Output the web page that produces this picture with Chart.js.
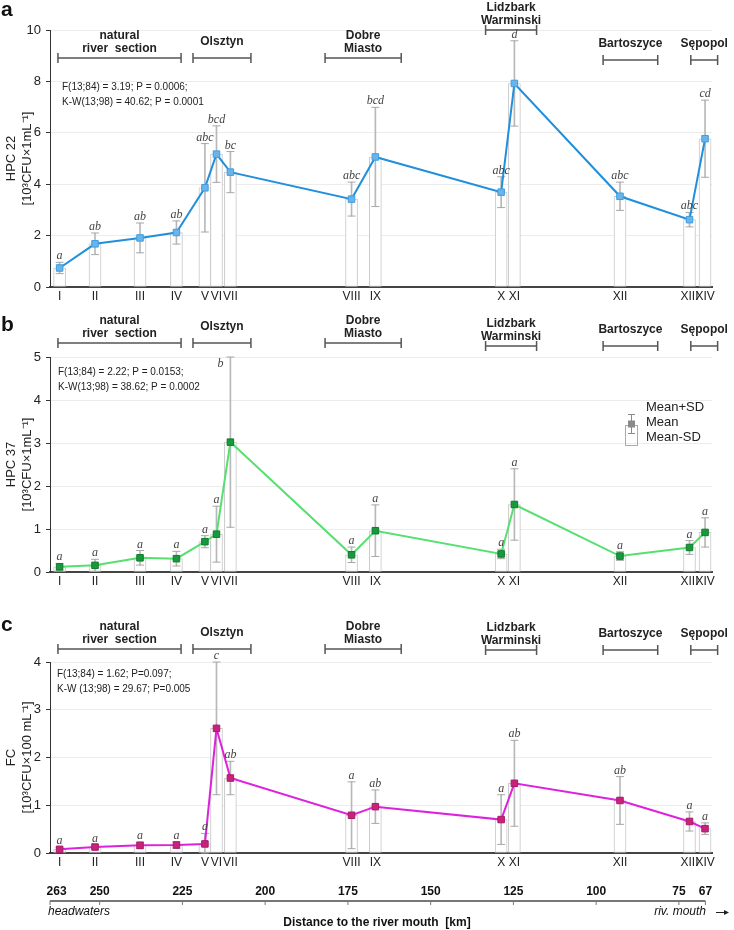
<!DOCTYPE html>
<html>
<head>
<meta charset="utf-8">
<script src="https://cdn.jsdelivr.net/npm/chart.js@4.4.0/dist/chart.umd.min.js"></script>
<style>
  body { margin: 0; background: #fff; }
  #wrap { position: relative; width: 734px; height: 930px; }
  canvas { position: absolute; left: 0; }
</style>
</head>
<body>
<div id="wrap">
  <canvas id="chartA" width="734" height="310" style="top:0"></canvas>
  <canvas id="chartB" width="734" height="290" style="top:310px"></canvas>
  <canvas id="chartC" width="734" height="330" style="top:600px"></canvas>
</div>
<script>
// sampling sites and their distance to the river mouth (km)
const sites = ['I', 'II', 'III', 'IV', 'V', 'VI', 'VII', 'VIII', 'IX', 'X', 'XI', 'XII', 'XIII', 'XIV'];
const siteKm = [262.1, 251.4, 237.8, 226.8, 218.2, 214.7, 210.5, 173.9, 166.7, 128.7, 124.7, 92.8, 71.8, 67.1];
const distTicks = [263, 250, 225, 200, 175, 150, 125, 100, 75, 67];

// river sections
const towns = [['natural', 'river  section'], ['Olsztyn'], ['Dobre', 'Miasto'], ['Lidzbark', 'Warminski'], ['Bartoszyce'], ['Sępopol']];
const townFromKm = [262.6, 221.8, 181.9, 133.4, 97.9, 71.4];
const townToKm = [225.4, 204.3, 158.9, 118.0, 81.4, 63.3];

// a) HPC 22
const hpc22Mean = [0.74, 1.68, 1.91, 2.12, 3.86, 5.17, 4.47, 3.42, 5.06, 3.69, 7.92, 3.53, 2.62, 5.77];
const hpc22Sd = [0.22, 0.42, 0.58, 0.45, 1.72, 1.10, 0.80, 0.66, 1.93, 0.60, 1.66, 0.55, 0.28, 1.50];
const hpc22Letters = ['a', 'ab', 'ab', 'ab', 'abc', 'bcd', 'bc', 'abc', 'bcd', 'abc', 'd', 'abc', 'abc', 'cd'];
const hpc22Stats = ['F(13;84) = 3.19; P = 0.0006;', 'K-W(13;98) = 40.62; P = 0.0001'];

// b) HPC 37
const hpc37Mean = [0.12, 0.155, 0.33, 0.31, 0.705, 0.88, 3.02, 0.40, 0.96, 0.42, 1.57, 0.37, 0.57, 0.92];
const hpc37Sd = [0.08, 0.14, 0.17, 0.17, 0.14, 0.65, 1.98, 0.18, 0.60, 0.11, 0.83, 0.10, 0.16, 0.34];
const hpc37Letters = ['a', 'a', 'a', 'a', 'a', 'a', 'b', 'a', 'a', 'a', 'a', 'a', 'a', 'a'];
const hpc37Stats = ['F(13;84) = 2.22; P = 0.0153;', 'K-W(13;98) = 38.62; P = 0.0002'];

// c) FC
const fcMean = [0.077, 0.125, 0.16, 0.167, 0.19, 2.61, 1.57, 0.79, 0.97, 0.70, 1.46, 1.10, 0.66, 0.51];
const fcSd = [0.04, 0.05, 0.07, 0.07, 0.22, 1.39, 0.35, 0.70, 0.35, 0.52, 0.90, 0.50, 0.20, 0.12];
const fcLetters = ['a', 'a', 'a', 'a', 'a', 'c', 'ab', 'a', 'ab', 'a', 'ab', 'ab', 'a', 'a'];
const fcStats = ['F(13;84) = 1.62; P=0.097;', 'K-W (13;98) = 29.67; P=0.005'];

Chart.defaults.font.family = '"Liberation Sans", Arial, sans-serif';
Chart.defaults.color = '#222';

const SANS = '"Liberation Sans", Arial, sans-serif';

const panels = [
  { id: 'chartA', tag: 'a', tagY: 10, mean: hpc22Mean, sd: hpc22Sd, letters: hpc22Letters, stats: hpc22Stats,
    yMax: 10, yStep: 2, title: ['HPC 22', '[10³CFU×1mL⁻¹]'],
    line: '#2090dc', markerFill: '#6ab4ea', markerEdge: '#3d9ee0',
    pad: { top: 30, bottom: 3 }, statsX: 62, statsY: 87, bracketY: [58, 58, 58, 30, 60, 60] },
  { id: 'chartB', tag: 'b', tagY: 15, mean: hpc37Mean, sd: hpc37Sd, letters: hpc37Letters, stats: hpc37Stats,
    yMax: 5, yStep: 1, title: ['HPC 37', '[10³CFU×1mL⁻¹]'],
    line: '#55e070', markerFill: '#179a3c', markerEdge: '#0f7a2c',
    pad: { top: 47, bottom: 8 }, statsX: 58, statsY: 62, bracketY: [33, 33, 33, 36, 36, 36],
    clampLetters: true, legend: true },
  { id: 'chartC', tag: 'c', tagY: 25, mean: fcMean, sd: fcSd, letters: fcLetters, stats: fcStats,
    yMax: 4, yStep: 1, title: ['FC', '[10³CFU×100 mL⁻¹]'],
    line: '#dd22dd', markerFill: '#c8237a', markerEdge: '#a81a66',
    pad: { top: 62, bottom: 57 }, statsX: 57, statsY: 74, bracketY: [49, 49, 49, 50, 50, 50],
    distance: true }
];

function overlay(p) {
  return {
    id: 'overlay' + p.tag,
    afterDraw(chart) {
      const { ctx, chartArea, scales: { x, y } } = chart;
      ctx.save();

      // significance letters
      ctx.font = 'italic 12px "Liberation Serif", serif';
      ctx.fillStyle = '#444';
      ctx.textAlign = 'center';
      ctx.textBaseline = 'alphabetic';
      p.letters.forEach((t, i) => {
        let px = x.getPixelForValue(siteKm[i]);
        let py = y.getPixelForValue(p.mean[i] + p.sd[i]) - 3;
        if (p.clampLetters && py < chartArea.top) {
          px -= 10;
          py = chartArea.top + 10;
        }
        ctx.fillText(t, px, py);
      });

      // section brackets
      ctx.strokeStyle = '#555';
      ctx.lineWidth = 1.5;
      ctx.fillStyle = '#222';
      ctx.font = 'bold 12px ' + SANS;
      ctx.textBaseline = 'middle';
      towns.forEach((name, i) => {
        const x0 = x.getPixelForValue(townFromKm[i]);
        const x1 = x.getPixelForValue(townToKm[i]);
        const by = p.bracketY[i];
        ctx.beginPath();
        ctx.moveTo(x0, by); ctx.lineTo(x1, by);
        ctx.moveTo(x0, by - 5); ctx.lineTo(x0, by + 5);
        ctx.moveTo(x1, by - 5); ctx.lineTo(x1, by + 5);
        ctx.stroke();
        const cx = (x0 + x1) / 2;
        if (name.length === 2) {
          ctx.fillText(name[0], cx, by - 22);
          ctx.fillText(name[1], cx, by - 9);
        } else {
          ctx.fillText(name[0], cx, by - 16);
        }
      });

      // test statistics
      ctx.font = '10px ' + SANS;
      ctx.textAlign = 'left';
      p.stats.forEach((s, i) => ctx.fillText(s, p.statsX, p.statsY + i * 15));

      // panel tag
      ctx.font = 'bold 21px ' + SANS;
      ctx.fillStyle = '#111';
      ctx.fillText(p.tag, 1, p.tagY);

      if (p.legend) {
        ctx.fillStyle = '#222';
        ctx.font = '13px ' + SANS;
        ctx.fillText('Mean+SD', 646, 97);
        ctx.fillText('Mean', 646, 112);
        ctx.fillText('Mean-SD', 646, 127);
        ctx.strokeStyle = '#aaa';
        ctx.lineWidth = 1;
        ctx.strokeRect(625.5, 115.5, 12, 20);
        ctx.strokeStyle = '#888';
        ctx.beginPath();
        ctx.moveTo(631.5, 104); ctx.lineTo(631.5, 123);
        ctx.moveTo(628, 104.5); ctx.lineTo(635, 104.5);
        ctx.moveTo(628, 123.5); ctx.lineTo(635, 123.5);
        ctx.stroke();
        ctx.fillStyle = '#8a8a8a';
        ctx.fillRect(628, 110.5, 7, 7);
      }

      if (p.distance) {
        const ay = 301;
        const xEnd = x.getPixelForValue(67);
        ctx.strokeStyle = '#777';
        ctx.lineWidth = 2;
        ctx.beginPath();
        ctx.moveTo(chartArea.left, ay); ctx.lineTo(xEnd, ay);
        ctx.stroke();
        ctx.lineWidth = 1;
        ctx.fillStyle = '#111';
        ctx.font = 'bold 12px ' + SANS;
        ctx.textAlign = 'center';
        distTicks.forEach(v => {
          const tx = v === 263 ? chartArea.left : x.getPixelForValue(v);
          ctx.beginPath();
          ctx.moveTo(tx, ay); ctx.lineTo(tx, ay + 4);
          ctx.stroke();
          ctx.fillText(String(v), x.getPixelForValue(v), ay - 9);
        });
        ctx.fillText('Distance to the river mouth  [km]', (chartArea.left + chartArea.right) / 2 - 4, 323);
        ctx.font = 'italic 12px ' + SANS;
        ctx.textAlign = 'left';
        ctx.fillText('headwaters', 48, 312);
        ctx.textAlign = 'right';
        ctx.fillText('riv. mouth', 706, 312);
        ctx.strokeStyle = '#222';
        ctx.beginPath();
        ctx.moveTo(716, 312.5); ctx.lineTo(728, 312.5);
        ctx.stroke();
        ctx.beginPath();
        ctx.moveTo(729, 312.5); ctx.lineTo(724, 310); ctx.lineTo(724, 315); ctx.closePath();
        ctx.fillStyle = '#222';
        ctx.fill();
      }
      ctx.restore();
    }
  };
}

panels.forEach(p => {
  const lo = p.mean.map((m, i) => Math.max(0, m - p.sd[i]));
  const hi = p.mean.map((m, i) => m + p.sd[i]);
  const caps = [];
  siteKm.forEach((k, i) => {
    caps.push({ x: k, y: hi[i] });
    caps.push({ x: k, y: lo[i] });
  });

  new Chart(document.getElementById(p.id), {
    type: 'line',
    data: {
      datasets: [
        {
          type: 'line',
          data: siteKm.map((k, i) => ({ x: k, y: p.mean[i] })),
          borderColor: p.line,
          borderWidth: 2,
          tension: 0,
          pointStyle: 'rect',
          pointRadius: 4.6,
          pointBackgroundColor: p.markerFill,
          pointBorderColor: p.markerEdge,
          pointBorderWidth: 1,
          order: 0
        },
        {
          type: 'scatter',
          data: caps,
          showLine: false,
          pointStyle: 'line',
          pointRadius: 4,
          pointBorderColor: '#a8a8a8',
          pointBorderWidth: 1,
          clip: false,
          order: 1
        },
        {
          type: 'bar',
          data: siteKm.map((k, i) => ({ x: k, y: [lo[i], hi[i]] })),
          backgroundColor: '#b8b8b8',
          borderWidth: 0,
          barThickness: 1,
          grouped: false,
          order: 2
        },
        {
          type: 'bar',
          data: siteKm.map((k, i) => ({ x: k, y: p.mean[i] })),
          backgroundColor: '#ffffff',
          borderColor: '#c8c8c8',
          borderWidth: 1,
          borderSkipped: false,
          barThickness: 12,
          grouped: false,
          order: 3
        }
      ]
    },
    options: {
      responsive: false,
      animation: false,
      layout: { padding: { top: p.pad.top, bottom: p.pad.bottom, left: 0, right: 22 } },
      plugins: { legend: { display: false }, tooltip: { enabled: false } },
      scales: {
        x: {
          type: 'linear',
          reverse: true,
          min: 65,
          max: 265,
          offset: false,
          afterBuildTicks: scale => { scale.ticks = siteKm.map(v => ({ value: v })); },
          afterFit: scale => { scale.height = 20; },
          ticks: {
            autoSkip: false,
            maxRotation: 0,
            padding: 2,
            font: { size: 12 },
            color: '#222',
            callback: (value, index) => sites[index]
          },
          grid: { display: false, drawTicks: false },
          border: { display: true, color: '#444', width: 2 }
        },
        y: {
          min: 0,
          max: p.yMax,
          afterFit: scale => { scale.width = 50; },
          ticks: { stepSize: p.yStep, padding: 5, font: { size: 13 }, color: '#222' },
          grid: { color: '#ececec', drawTicks: true, tickLength: 4, tickColor: '#333' },
          border: { display: true, color: '#333', width: 1 },
          title: {
            display: true,
            text: p.title,
            font: { size: 13 },
            color: '#222',
            padding: { top: 4, bottom: 0 }
          }
        }
      }
    },
    plugins: [overlay(p)]
  });
});
</script>
</body>
</html>
